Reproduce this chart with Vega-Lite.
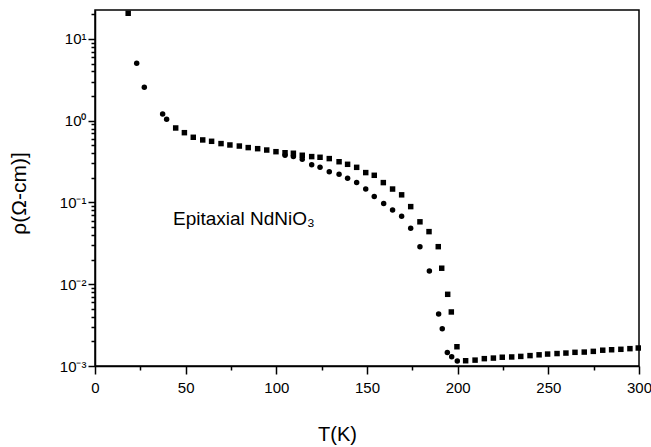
{
  "$schema": "https://vega.github.io/schema/vega-lite/v6.json",
  "autosize": {"type": "none"},
  "width": 544,
  "height": 356,
  "padding": {"left": 95, "top": 10, "right": 12, "bottom": 81},
  "background": "white",
  "config": {
    "view": {"stroke": "black", "strokeWidth": 1.5},
    "font": "Liberation Sans",
    "axis": {
      "grid": false,
      "domainColor": "black",
      "domainWidth": 1.5,
      "tickColor": "black",
      "tickWidth": 1.5,
      "labelColor": "black",
      "labelFont": "Liberation Sans",
      "labelFontSize": 15,
      "titleFont": "Liberation Sans",
      "titleFontWeight": "normal",
      "titleFontSize": 20,
      "titleColor": "black",
      "labelFlush": false,
      "labelOverlap": false
    }
  },
  "layer": [
    {
      "data": {
        "values": [
          {"T": 18.3, "rho": 20.6, "series": "sq"},
          {"T": 44.5, "rho": 0.815, "series": "sq"},
          {"T": 49.3, "rho": 0.714, "series": "sq"},
          {"T": 54.2, "rho": 0.627, "series": "sq"},
          {"T": 59.4, "rho": 0.582, "series": "sq"},
          {"T": 64.3, "rho": 0.56, "series": "sq"},
          {"T": 69.5, "rho": 0.525, "series": "sq"},
          {"T": 74.4, "rho": 0.505, "series": "sq"},
          {"T": 79.6, "rho": 0.49, "series": "sq"},
          {"T": 84.5, "rho": 0.469, "series": "sq"},
          {"T": 89.7, "rho": 0.455, "series": "sq"},
          {"T": 94.7, "rho": 0.438, "series": "sq"},
          {"T": 99.8, "rho": 0.418, "series": "sq"},
          {"T": 104.8, "rho": 0.406, "series": "sq"},
          {"T": 109.4, "rho": 0.4, "series": "sq"},
          {"T": 114.3, "rho": 0.378, "series": "sq"},
          {"T": 119.5, "rho": 0.364, "series": "sq"},
          {"T": 124.1, "rho": 0.357, "series": "sq"},
          {"T": 129.2, "rho": 0.344, "series": "sq"},
          {"T": 134.6, "rho": 0.315, "series": "sq"},
          {"T": 139.3, "rho": 0.293, "series": "sq"},
          {"T": 144.3, "rho": 0.269, "series": "sq"},
          {"T": 149.3, "rho": 0.232, "series": "sq"},
          {"T": 154.0, "rho": 0.215, "series": "sq"},
          {"T": 159.0, "rho": 0.175, "series": "sq"},
          {"T": 164.1, "rho": 0.146, "series": "sq"},
          {"T": 169.1, "rho": 0.124, "series": "sq"},
          {"T": 174.1, "rho": 0.089, "series": "sq"},
          {"T": 179.2, "rho": 0.058, "series": "sq"},
          {"T": 184.2, "rho": 0.044, "series": "sq"},
          {"T": 189.3, "rho": 0.0288, "series": "sq"},
          {"T": 191.2, "rho": 0.0157, "series": "sq"},
          {"T": 194.5, "rho": 0.00753, "series": "sq"},
          {"T": 196.5, "rho": 0.00458, "series": "sq"},
          {"T": 199.6, "rho": 0.00172, "series": "sq"},
          {"T": 204.4, "rho": 0.00116, "series": "sq"},
          {"T": 209.6, "rho": 0.00118, "series": "sq"},
          {"T": 214.7, "rho": 0.00123, "series": "sq"},
          {"T": 219.7, "rho": 0.00125, "series": "sq"},
          {"T": 224.6, "rho": 0.00128, "series": "sq"},
          {"T": 229.8, "rho": 0.00129, "series": "sq"},
          {"T": 234.8, "rho": 0.00131, "series": "sq"},
          {"T": 239.9, "rho": 0.00134, "series": "sq"},
          {"T": 244.9, "rho": 0.00137, "series": "sq"},
          {"T": 249.6, "rho": 0.0014, "series": "sq"},
          {"T": 254.8, "rho": 0.00142, "series": "sq"},
          {"T": 259.7, "rho": 0.00144, "series": "sq"},
          {"T": 264.7, "rho": 0.00147, "series": "sq"},
          {"T": 269.8, "rho": 0.00148, "series": "sq"},
          {"T": 274.8, "rho": 0.00151, "series": "sq"},
          {"T": 280.0, "rho": 0.00156, "series": "sq"},
          {"T": 284.9, "rho": 0.00158, "series": "sq"},
          {"T": 290.0, "rho": 0.0016, "series": "sq"},
          {"T": 295.0, "rho": 0.00163, "series": "sq"},
          {"T": 299.6, "rho": 0.00166, "series": "sq"},
          {"T": 23.0, "rho": 5.05, "series": "ci"},
          {"T": 27.2, "rho": 2.57, "series": "ci"},
          {"T": 37.3, "rho": 1.21, "series": "ci"},
          {"T": 39.5, "rho": 1.04, "series": "ci"},
          {"T": 104.8, "rho": 0.378, "series": "ci"},
          {"T": 109.4, "rho": 0.364, "series": "ci"},
          {"T": 114.3, "rho": 0.337, "series": "ci"},
          {"T": 119.5, "rho": 0.29, "series": "ci"},
          {"T": 124.1, "rho": 0.269, "series": "ci"},
          {"T": 129.2, "rho": 0.238, "series": "ci"},
          {"T": 134.6, "rho": 0.221, "series": "ci"},
          {"T": 139.3, "rho": 0.198, "series": "ci"},
          {"T": 144.3, "rho": 0.175, "series": "ci"},
          {"T": 149.3, "rho": 0.146, "series": "ci"},
          {"T": 154.0, "rho": 0.118, "series": "ci"},
          {"T": 159.2, "rho": 0.097, "series": "ci"},
          {"T": 164.1, "rho": 0.081, "series": "ci"},
          {"T": 169.1, "rho": 0.068, "series": "ci"},
          {"T": 174.1, "rho": 0.0483, "series": "ci"},
          {"T": 179.2, "rho": 0.0288, "series": "ci"},
          {"T": 184.4, "rho": 0.0145, "series": "ci"},
          {"T": 189.5, "rho": 0.00432, "series": "ci"},
          {"T": 191.5, "rho": 0.00286, "series": "ci"},
          {"T": 194.3, "rho": 0.00146, "series": "ci"},
          {"T": 196.7, "rho": 0.0013, "series": "ci"},
          {"T": 199.8, "rho": 0.00115, "series": "ci"}
        ]
      },
      "mark": {"type": "point", "filled": true, "opacity": 1, "color": "black", "size": 30},
      "encoding": {
        "x": {
          "field": "T", "type": "quantitative",
          "scale": {"domain": [0, 300], "nice": false, "zero": false},
          "axis": {
            "title": "T(K)",
            "values": [0, 25, 50, 75, 100, 125, 150, 175, 200, 225, 250, 275, 300],
            "labelExpr": "datum.value % 50 == 0 ? datum.label : ''",
            "tickSize": {"condition": {"test": "datum.value % 50 == 0", "value": 8}, "value": 4},
            "labelPadding": 6,
            "titleX": 242,
            "titleY": 68,
            "titleBaseline": "middle",
            "titleAlign": "center"
          }
        },
        "y": {
          "field": "rho", "type": "quantitative",
          "scale": {"type": "log", "domain": [0.001, 22.6], "nice": false},
          "axis": {
            "title": "ρ(Ω-cm)]",
            "values": [0.001, 0.002, 0.003, 0.004, 0.005, 0.006, 0.007, 0.008, 0.009, 0.01, 0.02, 0.03, 0.04, 0.05, 0.06, 0.07, 0.08, 0.09, 0.1, 0.2, 0.3, 0.4, 0.5, 0.6, 0.7, 0.8, 0.9, 1, 2, 3, 4, 5, 6, 7, 8, 9, 10, 20],
            "labelExpr": "datum.value == 10 ? '10¹' : datum.value == 1 ? '10⁰' : datum.value == 0.1 ? '10⁻¹' : datum.value == 0.01 ? '10⁻²' : datum.value == 0.001 ? '10⁻³' : ''",
            "tickSize": {"condition": {"test": "indexof([0.001, 0.01, 0.1, 1, 10], datum.value) >= 0", "value": 7}, "value": 4},
            "labelPadding": 2,
            "titleFontSize": 21,
            "titleX": -76,
            "titleY": 183,
            "titleAngle": -90,
            "titleBaseline": "middle",
            "titleAlign": "center"
          }
        },
        "shape": {
          "field": "series", "type": "nominal",
          "scale": {"domain": ["sq", "ci"], "range": ["square", "circle"]},
          "legend": null
        }
      }
    },
    {
      "data": {"values": [{"T": 43, "rho": 0.053, "label": "Epitaxial NdNiO₃"}]},
      "mark": {"type": "text", "align": "left", "baseline": "alphabetic", "fontSize": 19, "font": "Liberation Sans", "color": "black"},
      "encoding": {
        "x": {"field": "T", "type": "quantitative"},
        "y": {"field": "rho", "type": "quantitative"},
        "text": {"field": "label"}
      }
    }
  ]
}
